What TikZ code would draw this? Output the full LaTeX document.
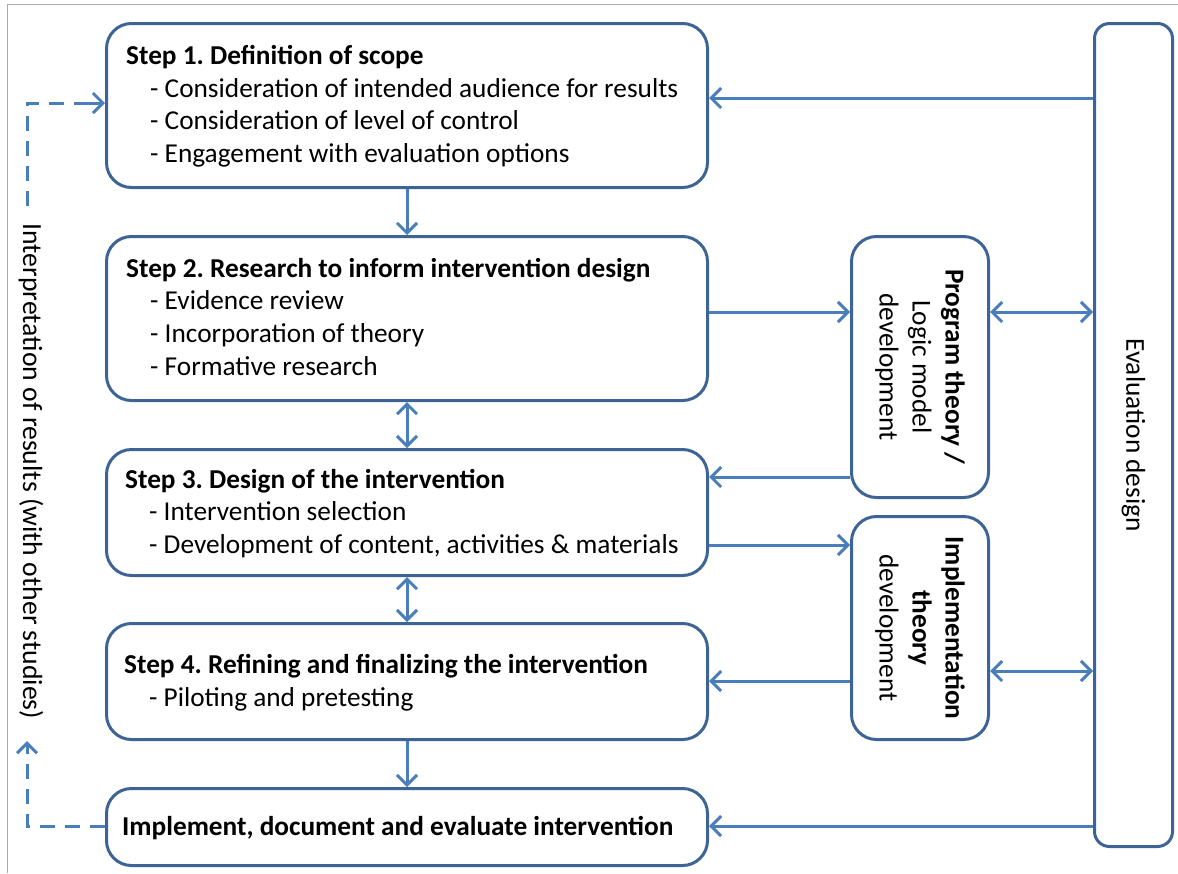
\documentclass[tikz,border=0pt]{standalone}
\usepackage{fontspec}
\setmainfont{Carlito}
\usetikzlibrary{arrows.meta,calc}
\definecolor{boxc}{RGB}{62,100,150}
\definecolor{arrc}{RGB}{74,126,187}
\definecolor{framec}{RGB}{170,170,170}
\frenchspacing
\begin{document}
\begin{tikzpicture}[x=1pt,y=-1pt,
  box/.style={draw=boxc, line width=3pt, rounded corners=25pt, fill=white, anchor=north west, inner sep=0pt},
  txt/.style={font=\fontsize{27.3}{33}\selectfont, inner sep=0pt, anchor=base west, text=black},
  ttl/.style={txt, font=\fontsize{27.3}{33}\selectfont\bfseries},
  rot/.style={font=\fontsize{27.3}{33}\selectfont, inner sep=0pt, rotate=-90, align=center, text=black},
  arr/.style={draw=arrc, line width=3pt, -{Straight Barb[length=10pt,width=20pt]}},
  darr/.style={draw=arrc, line width=3pt, {Straight Barb[length=10pt,width=20pt]}-{Straight Barb[length=10pt,width=20pt]}},
  dsh/.style={draw=arrc, line width=3pt, dash pattern=on 15pt off 10pt}
]
\useasboundingbox (0,0) rectangle (1178,873);
\fill[white] (0,0) rectangle (1178,873);
\draw[framec, line width=1pt] (7,873) -- (7,4) -- (1178,4);

% boxes
\node[box, minimum width=601pt, minimum height=164pt] (s1) at (105,22) {};
\node[box, minimum width=601pt, minimum height=164pt] (s2) at (105,235) {};
\node[box, minimum width=601pt, minimum height=126pt] (s3) at (105,448) {};
\node[box, minimum width=601pt, minimum height=116pt] (s4) at (105,622) {};
\node[box, minimum width=601pt, minimum height=77pt] (imp) at (105,787) {};
\node[box, minimum width=137pt, minimum height=261pt] (pt) at (850,235) {};
\node[box, minimum width=137pt, minimum height=223pt] (it) at (850,515) {};
\node[box, rounded corners=15pt, minimum width=78pt, minimum height=823pt] (ev) at (1093,22) {};

% step 1 text
\node[ttl] (s1t) at (126,64) {Step 1. Definition of scope};
\node[txt] (s1a) at (150,97) {- Consideration of intended audience for results};
\node[txt] (s1b) at (150,129) {- Consideration of level of control};
\node[txt] (s1c) at (150,162) {- Engagement with evaluation options};
% step 2 text
\node[ttl] (s2t) at (126,277) {Step 2. Research to inform intervention design};
\node[txt] (s2a) at (150,309) {- Evidence review};
\node[txt] (s2b) at (150,342) {- Incorporation of theory};
\node[txt] (s2c) at (150,375) {- Formative research};
% step 3 text
\node[ttl] (s3t) at (125,488) {Step 3. Design of the intervention};
\node[txt] (s3a) at (149,520) {- Intervention selection};
\node[txt] (s3b) at (149,553) {- Development of content, activities \& materials};
% step 4 text
\node[ttl] (s4t) at (124,673) {Step 4. Refining and finalizing the intervention};
\node[txt] (s4a) at (149,706) {- Piloting and pretesting};
% implement
\node[ttl] (impt) at (122,835) {Implement, document and evaluate intervention};

% rotated texts
\node[rot] (ptt) at (pt.center) {\textbf{Program theory /}\\Logic model\\development};
\node[rot] (itt) at (it.center) {\textbf{Implementation}\\\textbf{theory}\\development};
\node[rot] (evt) at (ev.center) {Evaluation design};
\node[rot, font=\fontsize{27.7}{33}\selectfont] (intt) at (31,471.5) {Interpretation of results (with other studies)};

% arrows
\draw[arr] (ev.west |- 0,98) -- (s1.east |- 0,98);
\draw[arr] (s1.south) -- (s2.north);
\draw[arr] (s2.east |- 0,312) -- (pt.west |- 0,312);
\draw[darr] (pt.east |- 0,312) -- (ev.west |- 0,312);
\draw[arr] (pt.west |- 0,477) -- (s3.east |- 0,477);
\draw[darr] (s2.south) -- (s3.north);
\draw[arr] (s3.east |- 0,545) -- (it.west |- 0,545);
\draw[darr] (s3.south) -- (s4.north);
\draw[arr] (it.west |- 0,681) -- (s4.east |- 0,681);
\draw[darr] (it.east |- 0,671) -- (ev.west |- 0,671);
\draw[arr] (s4.south) -- (imp.north);
\draw[arr] (ev.west |- 0,826) -- (imp.east |- 0,826);

% dashed feedback
\coordinate (d1) at (27,826);
\coordinate (d2) at (27,741);
\coordinate (d3) at (27,206);
\coordinate (d4) at (27,103);
\coordinate (d2b) at (27,749);
\coordinate (d4b) at (89,103);
\draw[dsh] (imp.west |- d1) -- (d1) -- (d2b);
\draw[arr] (d2b) -- (d2);
\draw[dsh] (d3) -- (d4) -- (d4b);
\draw[arr] (d4b) -- (s1.west |- d4);
\end{tikzpicture}
\end{document}
